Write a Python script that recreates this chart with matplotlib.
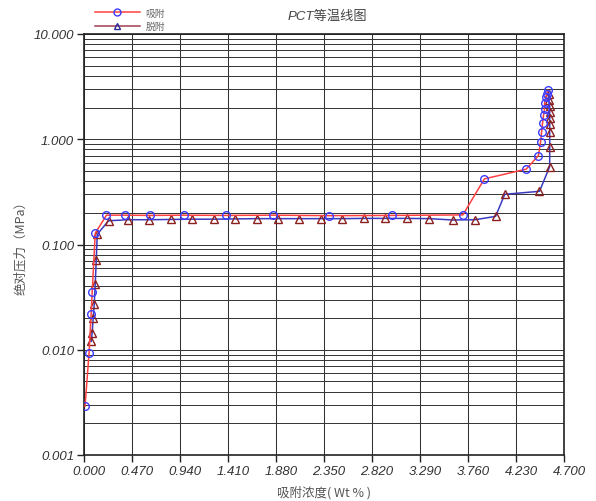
import matplotlib
matplotlib.use('Agg')
import matplotlib.pyplot as plt
import matplotlib.transforms as mtransforms
from matplotlib.lines import Line2D
from matplotlib.ticker import LogLocator, FixedLocator, FormatStrFormatter, NullFormatter

# adsorption (吸附)
ads_x = [0.01, 0.05, 0.07, 0.08, 0.11, 0.22, 0.40, 0.65, 0.98, 1.39, 1.85, 2.40, 3.02, 3.71,
         3.92, 4.33, 4.45, 4.47, 4.48, 4.49, 4.50, 4.51, 4.51, 4.52, 4.53, 4.54]
ads_y = [0.0029, 0.0094, 0.022, 0.035, 0.128, 0.190, 0.190, 0.189, 0.190, 0.189, 0.190, 0.188, 0.189, 0.191,
         0.42, 0.52, 0.70, 0.935, 1.16, 1.42, 1.70, 1.94, 2.21, 2.50, 2.69, 2.92]

# desorption (脱附), in measuring order (high pressure first)
des_x = [4.55, 4.55, 4.56, 4.56, 4.56, 4.56, 4.56, 4.56, 4.56, 4.46, 4.12,
         4.03, 3.83, 3.61, 3.38, 3.16, 2.95, 2.74, 2.53, 2.32, 2.11, 1.90, 1.69, 1.48, 1.27,
         1.06, 0.85, 0.64, 0.43, 0.24, 0.13, 0.12, 0.11, 0.10, 0.09, 0.08, 0.07]
des_y = [2.70, 2.38, 2.08, 1.80, 1.58, 1.40, 1.16, 0.84, 0.55, 0.32, 0.30,
         0.185, 0.172, 0.171, 0.176, 0.177, 0.177, 0.177, 0.176, 0.176, 0.176, 0.176, 0.176, 0.175, 0.174,
         0.174, 0.173, 0.172, 0.172, 0.168, 0.125, 0.072, 0.042, 0.027, 0.020, 0.0145, 0.012]

x_ticks = [0.0, 0.47, 0.94, 1.41, 1.88, 2.35, 2.82, 3.29, 3.76, 4.23, 4.70]

cjk = ['Noto Sans CJK SC', 'DejaVu Sans']

fig = plt.figure(figsize=(5.96, 5.02), dpi=100)
ax = fig.add_axes([84 / 596, 1 - 456 / 502, 480 / 596, 421 / 502])

ax.plot(ads_x, ads_y, color='#ff4040', lw=1.1, marker='o', ms=5.5,
        mfc='none', mec='#3a3aff', mew=1.0, zorder=4)
ax.plot(des_x, des_y, color='#3a3ac0', lw=1.1, marker='^', ms=5.2,
        mfc='none', mec='#8b2020', mew=1.0, zorder=3)

ax.set_yscale('log')
ax.set_ylim(0.001, 10)
ax.set_xlim(0, 4.7)

ax.xaxis.set_major_locator(FixedLocator(x_ticks))
ax.xaxis.set_major_formatter(FormatStrFormatter('%.3f'))
ax.yaxis.set_major_locator(LogLocator(base=10, numticks=10))
ax.yaxis.set_minor_locator(LogLocator(base=10, subs=range(2, 10), numticks=20))
ax.yaxis.set_major_formatter(FormatStrFormatter('%.3f'))
ax.yaxis.set_minor_formatter(NullFormatter())

ax.grid(True, which='major', axis='x', color='#333333', lw=0.75)
ax.grid(True, which='both', axis='y', color='#333333', lw=0.7)
ax.tick_params(axis='both', which='major', direction='out', length=5, width=1, color='#222222', pad=2)
ax.tick_params(axis='y', which='minor', length=0)

for lab in ax.get_xticklabels() + ax.get_yticklabels():
    lab.set_family('Liberation Sans')
    lab.set_style('italic')
    lab.set_size(9.5)
    lab.set_color('#333333')
shift = mtransforms.ScaledTranslation(5 / 100, 0, fig.dpi_scale_trans)
for lab in ax.get_xticklabels():
    lab.set_transform(lab.get_transform() + shift)

for s in ax.spines.values():
    s.set_color('#222222')
    s.set_linewidth(1.2)

ax.set_xlabel('吸附浓度( Wt % )', family=cjk, style='italic', size=9, color='#555555', labelpad=6)
ax.set_ylabel('绝对压力（MPa）', family=cjk, style='italic', size=9, color='#555555', labelpad=5)
fig.text(0.55, 0.968, 'PCT等温线图', family=['Liberation Sans', 'Noto Sans CJK SC'], style='italic',
         size=9.5, color='#444444', ha='center', va='center')

handles = [Line2D([], [], color='#ff4040', lw=1.1, marker='o', ms=5, mfc='none', mec='#3a3aff'),
           Line2D([], [], color='#a04050', lw=1.1, marker='^', ms=5, mfc='none', mec='#2a2a9a')]
fig.legend(handles, ['吸附', '脱附'], loc='upper left', bbox_to_anchor=(88 / 596, 1 - 2 / 502),
           frameon=False, prop={'family': cjk, 'size': 7}, handlelength=4.6,
           labelspacing=0.35, handletextpad=0.6, borderpad=0.2, labelcolor='#666666')

fig.savefig('out.png', dpi=100)
